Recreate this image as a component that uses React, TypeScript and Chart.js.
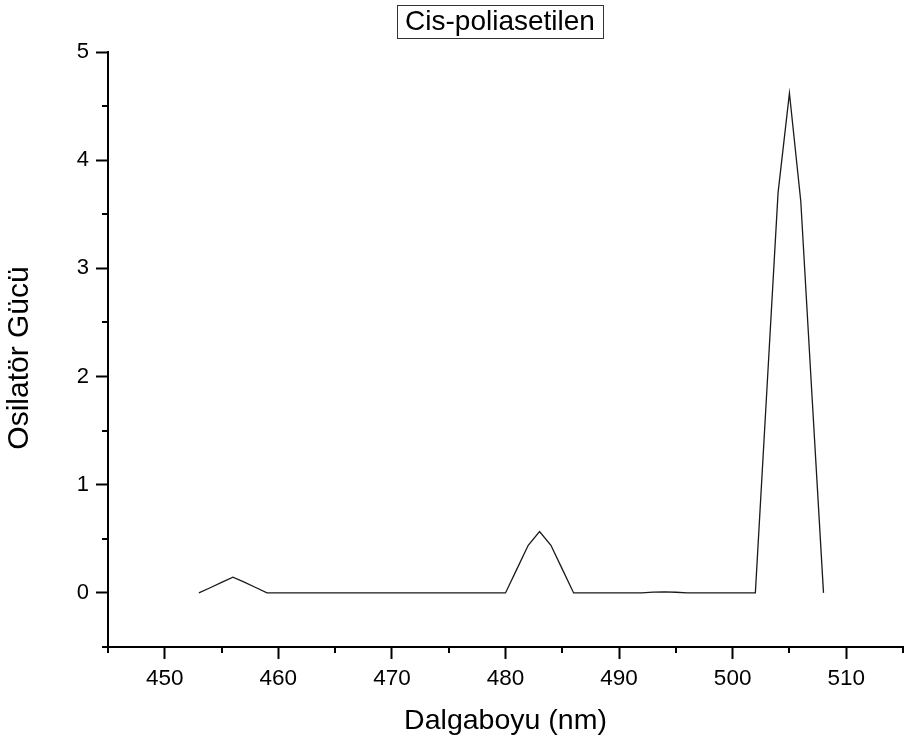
import React, { useEffect, useRef } from "react";
import { Chart, registerables } from "chart.js";

Chart.register(...registerables);

const TITLE = "Cis-poliasetilen";
const X_TITLE = "Dalgaboyu (nm)";
const Y_TITLE = "Osilatör Gücü";

const wavelengths: number[] = [
  453, 454, 455, 456, 457, 458, 459, 460, 461, 462, 463, 464, 465, 466, 467, 468, 469, 470,
  471, 472, 473, 474, 475, 476, 477, 478, 479, 480, 481, 482, 483, 484, 485, 486, 487, 488,
  489, 490, 491, 492, 493, 494, 495, 496, 497, 498, 499, 500, 501, 502, 503, 504, 505, 506,
  507, 508,
];
const oscillator: number[] = [
  0, 0.048, 0.097, 0.145, 0.1, 0.05, 0, 0, 0, 0, 0, 0, 0, 0, 0, 0, 0, 0,
  0, 0, 0, 0, 0, 0, 0, 0, 0, 0, 0.22, 0.44, 0.567, 0.44, 0.22, 0, 0, 0,
  0, 0, 0, 0, 0.008, 0.01, 0.006, 0, 0, 0, 0, 0, 0, 0, 1.85, 3.7, 4.62, 3.62,
  1.8, 0,
];

const X_MIN = 445;
const X_MAX = 515;
const Y_MIN = -0.5;
const Y_MAX = 5;

const FONT = "'Liberation Sans', Arial, Helvetica, sans-serif";

export default function App() {
  const ref = useRef<HTMLCanvasElement | null>(null);

  useEffect(() => {
    document.body.style.margin = "0";
    const canvas = ref.current;
    if (!canvas) return;

    const minorTicks = {
      id: "minorTicks",
      afterDatasetsDraw(chart: any) {
        const ctx = chart.ctx;
        const xs = chart.scales.x;
        const ys = chart.scales.y;
        ctx.save();
        ctx.strokeStyle = "#000";
        ctx.lineWidth = 2;
        for (const t of xs.ticks) {
          if (Math.abs(t.value % 10) > 1e-6) {
            const px = Math.round(xs.getPixelForValue(t.value));
            ctx.beginPath();
            ctx.moveTo(px, xs.top);
            ctx.lineTo(px, xs.top + 6);
            ctx.stroke();
          }
        }
        for (const t of ys.ticks) {
          if (Math.abs(t.value - Math.round(t.value)) > 1e-6) {
            const py = Math.round(ys.getPixelForValue(t.value));
            ctx.beginPath();
            ctx.moveTo(ys.right, py);
            ctx.lineTo(ys.right - 6, py);
            ctx.stroke();
          }
        }
        ctx.restore();
      },
    };

    const texts = {
      id: "texts",
      afterDraw(chart: any) {
        const ctx = chart.ctx;
        ctx.save();
        // boxed title
        ctx.font = `28px ${FONT}`;
        ctx.textAlign = "center";
        ctx.textBaseline = "middle";
        ctx.fillStyle = "#000";
        const cx = 500;
        const cy = 22;
        const w = ctx.measureText(TITLE).width;
        ctx.strokeStyle = "#333";
        ctx.lineWidth = 1;
        const bx = Math.round(cx - w / 2 - 8) + 0.5;
        ctx.strokeRect(bx, 5.5, Math.round(w + 16), 33);
        ctx.fillText(TITLE, cx, cy);
        // y axis title
        ctx.font = `30px ${FONT}`;
        ctx.translate(20, 358);
        ctx.rotate(-Math.PI / 2);
        ctx.fillText(Y_TITLE, 0, 0);
        ctx.restore();
      },
    };

    const chart = new Chart(canvas, {
      type: "line",
      data: {
        datasets: [
          {
            data: wavelengths.map((x, i) => ({ x, y: oscillator[i] })),
            borderColor: "#1a1a1a",
            borderWidth: 1.3,
            pointRadius: 0,
            tension: 0,
            fill: false,
          },
        ],
      },
      options: {
        animation: false,
        responsive: false,
        maintainAspectRatio: false,
        events: [],
        layout: { padding: { top: 52, right: 4, left: 0, bottom: 0 } },
        plugins: {
          legend: { display: false },
          title: { display: false },
          tooltip: { enabled: false },
        },
        scales: {
          x: {
            type: "linear",
            min: X_MIN,
            max: X_MAX,
            afterFit(scale: any) {
              scale.height = 95;
            },
            ticks: {
              stepSize: 5,
              autoSkip: false,
              maxRotation: 0,
              padding: 6,
              color: "#000",
              font: { family: FONT, size: 22.5 },
              callback: (v: any) => (Number(v) % 10 === 0 ? String(v) : ""),
            },
            grid: {
              display: true,
              drawOnChartArea: false,
              drawTicks: true,
              tickLength: 12,
              tickWidth: 2,
              tickColor: (c: any) =>
                c.tick && Number(c.tick.value) % 10 === 0 ? "#000" : "rgba(0,0,0,0)",
            },
            border: { display: true, color: "#000", width: 2 },
            title: {
              display: true,
              text: X_TITLE,
              color: "#000",
              font: { family: FONT, size: 28.5 },
              padding: { top: 0, bottom: 4 },
            },
          },
          y: {
            type: "linear",
            min: Y_MIN,
            max: Y_MAX,
            afterFit(scale: any) {
              scale.width = 108;
            },
            ticks: {
              stepSize: 0.5,
              autoSkip: false,
              padding: 7,
              color: "#000",
              font: { family: FONT, size: 22 },
              callback: (v: any) =>
                Math.abs(Number(v) - Math.round(Number(v))) < 1e-6 && Number(v) >= 0
                  ? String(Math.round(Number(v)))
                  : "",
            },
            grid: {
              display: true,
              drawOnChartArea: false,
              drawTicks: true,
              tickLength: 12,
              tickWidth: 2,
              tickColor: (c: any) =>
                c.tick && Math.abs(c.tick.value - Math.round(c.tick.value)) < 1e-6
                  ? "#000"
                  : "rgba(0,0,0,0)",
            },
            border: { display: true, color: "#000", width: 2 },
            title: { display: false },
          },
        },
      },
      plugins: [minorTicks, texts],
    });

    return () => chart.destroy();
  }, []);

  return (
    <div style={{ width: 909, height: 742, background: "#fff" }}>
      <canvas ref={ref} width={909} height={742} style={{ display: "block" }} />
    </div>
  );
}
